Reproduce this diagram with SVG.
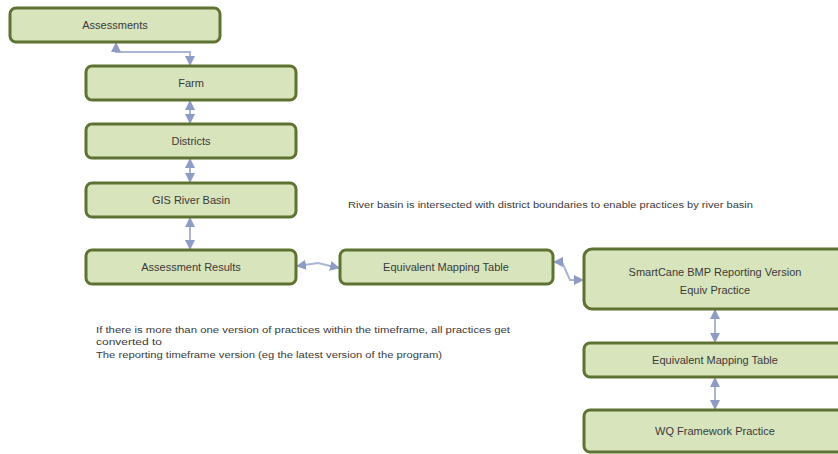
<svg xmlns="http://www.w3.org/2000/svg" width="838" height="454" viewBox="0 0 838 454">
<defs>
<style>
.box{fill:#d8e4bc;stroke:#5e7232;stroke-width:3}
.lbl{font-family:"Liberation Sans",Arial,sans-serif;font-size:11px;fill:#3a3a3a;text-anchor:middle}
.note{font-family:"Liberation Sans",Arial,sans-serif;font-size:8.5px;fill:#3a3a3a}
.con{fill:none;stroke:#a9b5d3;stroke-width:2}
</style>
<marker id="ah" viewBox="0 0 10 10" refX="9" refY="5" markerWidth="5" markerHeight="5" orient="auto-start-reverse">
<path d="M0,0 L10,5 L0,10 z" fill="#8e9cc4"/>
</marker>
</defs>
<rect width="838" height="454" fill="#ffffff"/>
<g id="connectors">
<path class="con" d="M116,43 V52 H190 V65" marker-start="url(#ah)" marker-end="url(#ah)"/>
<path class="con" d="M190,101 V123" marker-start="url(#ah)" marker-end="url(#ah)"/>
<path class="con" d="M190,159 V182" marker-start="url(#ah)" marker-end="url(#ah)"/>
<path class="con" d="M190,218 V249" marker-start="url(#ah)" marker-end="url(#ah)"/>
<path class="con" d="M297,266 L318,263 L339,268" marker-start="url(#ah)" marker-end="url(#ah)"/>
<path class="con" d="M554,262 H562 L570,280 H583" marker-start="url(#ah)" marker-end="url(#ah)"/>
<path class="con" d="M715,310 V342" marker-start="url(#ah)" marker-end="url(#ah)"/>
<path class="con" d="M715,378 V409" marker-start="url(#ah)" marker-end="url(#ah)"/>
</g>
<g id="n-assessments"><rect class="box" x="10" y="8" width="210" height="34" rx="6"/><text class="lbl" x="115" y="29">Assessments</text></g>
<g id="n-farm"><rect class="box" x="86" y="66" width="210" height="34" rx="6"/><text class="lbl" x="191" y="87">Farm</text></g>
<g id="n-districts"><rect class="box" x="86" y="124" width="210" height="34" rx="6"/><text class="lbl" x="191" y="145">Districts</text></g>
<g id="n-gis"><rect class="box" x="86" y="183" width="210" height="34" rx="6"/><text class="lbl" x="191" y="204">GIS River Basin</text></g>
<g id="n-results"><rect class="box" x="86" y="250" width="210" height="34" rx="6"/><text class="lbl" x="191" y="271">Assessment Results</text></g>
<g id="n-emt1"><rect class="box" x="340" y="250" width="213" height="34" rx="6"/><text class="lbl" x="446" y="271">Equivalent Mapping Table</text></g>
<g id="n-smartcane"><rect class="box" x="584" y="249" width="262" height="60" rx="8"/><text class="lbl" x="715" y="276">SmartCane BMP Reporting Version</text><text class="lbl" x="715" y="294">Equiv Practice</text></g>
<g id="n-emt2"><rect class="box" x="584" y="343" width="262" height="34" rx="6"/><text class="lbl" x="715" y="364">Equivalent Mapping Table</text></g>
<g id="n-wq"><rect class="box" x="584" y="410" width="262" height="42" rx="6"/><text class="lbl" x="715" y="435">WQ Framework Practice</text></g>
<g id="notes">
<text class="note" x="348" y="208" textLength="405" lengthAdjust="spacingAndGlyphs">River basin is intersected with district boundaries to enable practices by river basin</text>
<text class="note" x="96" y="333" textLength="414" lengthAdjust="spacingAndGlyphs">If there is more than one version of practices within the timeframe, all practices get</text>
<text class="note" x="96" y="345" textLength="66" lengthAdjust="spacingAndGlyphs">converted to</text>
<text class="note" x="96" y="358" textLength="346" lengthAdjust="spacingAndGlyphs">The reporting timeframe version (eg the latest version of the program)</text>
</g>
</svg>
